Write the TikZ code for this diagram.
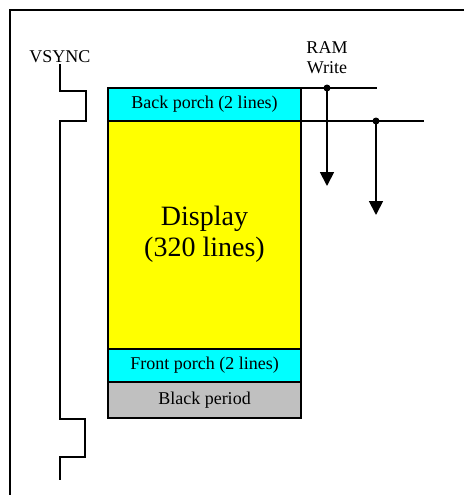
\documentclass[tikz,border=0pt]{standalone}
\usepackage{fontspec}
\setmainfont{Liberation Serif}
\usepackage{tikz}
\usetikzlibrary{arrows.meta,positioning}
\definecolor{porchcyan}{HTML}{00FFFF}
\definecolor{dispyellow}{HTML}{FFFF00}
\definecolor{blankgray}{HTML}{C0C0C0}

\begin{document}
\begin{tikzpicture}[x=1pt, y=-1pt,
    band/.style={rectangle, draw=black, line width=1.8pt, minimum width=193pt, inner sep=0pt, outer sep=0pt, font=\fontsize{18}{20}\selectfont},
    label/.style={font=\fontsize{18}{20}\selectfont, align=center, inner sep=1pt},
    wire/.style={line width=1.8pt},
    arrow/.style={-{Triangle[length=14pt, width=14pt]}, line width=1.8pt},
    dot/.style={circle, fill=black, inner sep=0pt, minimum size=7pt}
]
    \useasboundingbox (0,0) rectangle (464,495);
    \draw[wire] (464,10) -- (10,10) -- (10,495);

    \node[band, fill=porchcyan, minimum height=33pt] (back) at (204.5,104.5) {Back porch (2 lines)};
    \node[band, fill=dispyellow, minimum height=228pt, font=\fontsize{28}{31}\selectfont] (disp) at (204.5,235) {\raisebox{3pt}{\begin{tabular}{@{}c@{}}Display\\(320 lines)\end{tabular}}};
    \node[band, fill=porchcyan, minimum height=33pt] (front) at (204.5,365.5) {Front porch (2 lines)};
    \node[band, fill=blankgray, minimum height=36pt] (blank) at (204.5,400) {Black period};

    \node[label] (vsync) at (60,57) {VSYNC};
    \node[label] (ram) at (327,58) {RAM\\Write};

    % VSYNC pulse train
    \draw[wire] (vsync.south) |- (86,91) |- (60,121) |- (85,419) |- (60,457) -- (60,480);

    % RAM write strobes
    \coordinate (w1) at (377,88);
    \coordinate (w2) at (424,121);
    \node[dot] (d1) at (327,88) {};
    \node[dot] (d2) at (376,121) {};
    \coordinate (a1) at (327,186);
    \coordinate (a2) at (376,215);
    \draw[wire] (back.north east) -- (w1);
    \draw[wire] (back.south east) -- (w2);
    \draw[arrow] (d1.center) -- (a1);
    \draw[arrow] (d2.center) -- (a2);
\end{tikzpicture}
\end{document}
